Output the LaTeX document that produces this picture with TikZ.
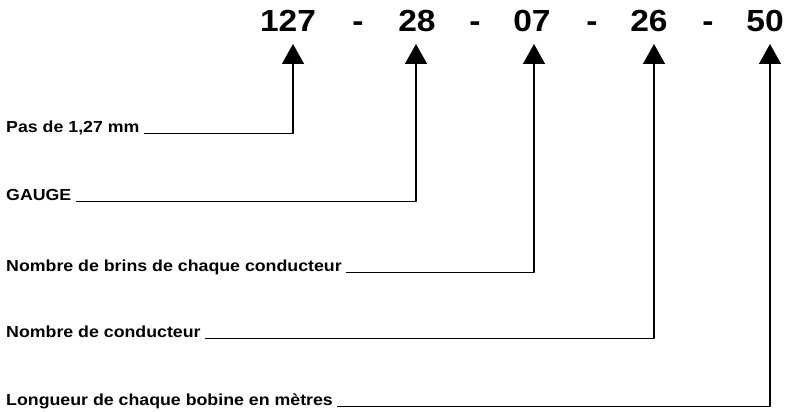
\documentclass[tikz,border=0pt]{standalone}
\usepackage{fontspec}
\setmainfont{Liberation Sans}
\newfontfamily\labfont[FakeStretch=1.11]{Liberation Sans}
\newfontfamily\numfont[FakeStretch=1.1]{Liberation Sans}
\usetikzlibrary{arrows.meta}
\begin{document}
\begin{tikzpicture}[x=1pt,y=-1pt,
  num/.style={anchor=base,inner sep=0pt,font=\numfont\fontsize{30.5}{30.5}\selectfont\bfseries},
  lab/.style={anchor=base west,inner sep=0pt,font=\labfont\fontsize{16}{16}\selectfont\bfseries},
  conn/.style={line width=1.5pt,line join=round,-{Triangle[width=22pt,length=20pt]}}]
\useasboundingbox (0,0) rectangle (788,412);
% numbers
\node[num] (n1) at (288,32) {127};
\node[num] (d1) at (358,32) {-};
\node[num] (n2) at (417,32) {28};
\node[num] (d2) at (475,32) {-};
\node[num] (n3) at (532,32) {07};
\node[num] (d3) at (592,32) {-};
\node[num] (n4) at (649,32) {26};
\node[num] (d4) at (708,32) {-};
\node[num] (n5) at (765,32) {50};
% arrow tips
\coordinate (t1) at (293,44);
\coordinate (t2) at (416,44);
\coordinate (t3) at (534,44);
\coordinate (t4) at (654,44);
\coordinate (t5) at (770,44);
% labels
\node[lab] (l1) at (6,132) {Pas de 1,27 mm};
\node[lab] (l2) at (6,200) {GAUGE};
\node[lab] (l3) at (6,271) {Nombre de brins de chaque conducteur};
\node[lab] (l4) at (6,337) {Nombre de conducteur};
\node[lab] (l5) at (6,405) {Longueur de chaque bobine en mètres};
% connectors
\draw[conn] ([xshift=4pt,yshift=-1.5pt]l1.base east) -| (t1);
\draw[conn] ([xshift=4pt,yshift=-1.5pt]l2.base east) -| (t2);
\draw[conn] ([xshift=4pt,yshift=-1.5pt]l3.base east) -| (t3);
\draw[conn] ([xshift=4pt,yshift=-1.5pt]l4.base east) -| (t4);
\draw[conn] ([xshift=4pt,yshift=-1.5pt]l5.base east) -| (t5);
\end{tikzpicture}
\end{document}
